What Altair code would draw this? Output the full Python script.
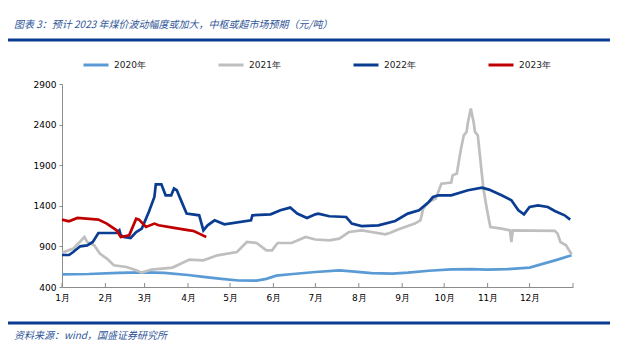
import altair as alt
import pandas as pd

years = ["2020年", "2021年", "2022年", "2023年"]
colors = ["#5B9BD5", "#BFBFBF", "#0A3D91", "#C00000"]

d2020 = ["01-01", "01-20", "02-10", "03-01", "03-15", "04-01", "04-12", "04-25", "05-07", "05-20",
         "05-27", "06-03", "06-15", "07-01", "07-18", "07-27", "08-10", "08-25", "09-05", "09-20",
         "10-06", "10-20", "11-01", "11-15", "12-01", "12-11", "12-21", "12-31"]
v2020 = [556, 560, 575, 580, 575, 548, 525, 500, 480, 478,
         500, 540, 560, 585, 605, 593, 570, 565, 577, 600,
         618, 620, 614, 620, 639, 688, 737, 790]

d2021 = ["01-01", "01-09", "01-14", "01-17", "01-19", "01-24", "01-28", "02-02", "02-07", "02-16",
         "02-23", "02-27", "03-06", "03-21", "04-02", "04-12", "04-22", "05-06", "05-13", "05-20",
         "05-27", "05-31", "06-04", "06-14", "06-24", "07-01", "07-11", "07-18", "07-25", "08-03",
         "08-10", "08-20", "08-24", "08-29", "09-03", "09-10", "09-14", "09-16", "09-20", "09-25",
         "09-29", "10-06", "10-07", "10-10", "10-13", "10-15", "10-17", "10-18", "10-20", "10-22",
         "10-23", "10-25", "10-27", "10-29", "10-31", "11-02", "11-03", "11-11", "11-17", "11-18",
         "11-19", "12-19", "12-21", "12-23", "12-27", "12-31"]
v2021 = [823, 873, 960, 1016, 954, 913, 811, 750, 667, 646,
         606, 577, 615, 639, 737, 729, 790, 831, 954, 942,
         852, 852, 942, 942, 1016, 985, 975, 996, 1077, 1098,
         1077, 1049, 1070, 1107, 1139, 1181, 1221, 1365, 1447, 1489,
         1673, 1686, 1775, 1797, 2104, 2268, 2309, 2432, 2597, 2432,
         2309, 2268, 1939, 1612, 1406, 1221, 1139, 1119, 1098, 954,
         1098, 1091, 1057, 954, 913, 803]

d2022 = ["01-01", "01-06", "01-09", "01-14", "01-19", "01-23", "01-27", "02-09", "02-11", "02-12",
         "02-14", "02-19", "02-23", "02-27", "03-04", "03-08", "03-09", "03-13", "03-16", "03-20",
         "03-22", "03-24", "03-28", "03-31", "04-09", "04-12", "04-15", "04-20", "04-27", "05-16",
         "05-17", "05-30", "06-06", "06-13", "06-18", "06-25", "07-01", "07-03", "07-11", "07-23",
         "07-27", "08-03", "08-15", "08-27", "09-05", "09-13", "09-20", "09-23", "09-27", "10-06",
         "10-18", "10-28", "11-02", "11-11", "11-18", "11-23", "11-27", "12-01", "12-07", "12-14",
         "12-19", "12-26", "12-30"]
v2022 = [794, 794, 831, 901, 913, 954, 1065, 1065, 1098, 1037,
         1016, 1004, 1077, 1119, 1324, 1508, 1665, 1665, 1529, 1529,
         1612, 1591, 1427, 1304, 1283, 1098, 1160, 1221, 1172, 1221,
         1283, 1295, 1345, 1378, 1304, 1250, 1295, 1304, 1271, 1262,
         1181, 1151, 1160, 1213, 1304, 1345, 1447, 1508, 1529, 1529,
         1591, 1624, 1599, 1529, 1468, 1345, 1295, 1385, 1406, 1385,
         1336, 1283, 1230]

d2023 = ["01-01", "01-06", "01-12", "01-27", "02-02", "02-09", "02-12", "02-18", "02-20", "02-23",
         "02-25", "03-02", "03-08", "03-11", "03-21", "04-02", "04-05", "04-09", "04-14"]
v2023 = [1230, 1209, 1250, 1230, 1181, 1098, 1016, 1037, 1119, 1242,
         1230, 1139, 1181, 1160, 1131, 1098, 1090, 1057, 1016]

month_starts = ["2022/%02d/01" % m for m in range(1, 13)] + ["2023/01/01"]
y_ticks = [400, 900, 1400, 1900, 2400, 2900]

title_text = "图表 3：预计 2023 年煤价波动幅度或加大，中枢或超市场预期（元/吨）"
source_text = "资料来源：wind，国盛证券研究所"

rows = []
for yr, ds, vs in zip(years, [d2020, d2021, d2022, d2023], [v2020, v2021, v2022, v2023]):
    for d, v in zip(ds, vs):
        rows.append({"year": yr, "date": "2022/" + d.replace("-", "/"), "price": v})
df = pd.DataFrame(rows)

W, H = 511, 203
x_scale = alt.Scale(domain=[alt.DateTime(year=2022, month=1, date=1), alt.DateTime(year=2023, month=1, date=1)])
x_axis = alt.Axis(
    values=[alt.DateTime(year=2022, month=m, date=1) for m in range(1, 13)],
    format="%-m月", labelFont="DejaVu Sans", labelFontSize=9, labelColor="#000000",
    ticks=False, domainColor="#8C8C8C", labelPadding=6, grid=False, title=None,
    labelAngle=0, labelFlush=False, labelOverlap=False,
)
y_axis = alt.Axis(
    values=y_ticks, format="d", labelFont="DejaVu Sans", labelFontSize=9, labelColor="#000000",
    tickSize=3, tickColor="#8C8C8C", domainColor="#8C8C8C", grid=False, title=None,
    labelPadding=3,
)

lines = alt.Chart(df).mark_line(strokeWidth=2.7).encode(
    x=alt.X("date:T", scale=x_scale, axis=x_axis),
    y=alt.Y("price:Q", scale=alt.Scale(domain=[400, 2900], nice=False, zero=False), axis=y_axis),
    color=alt.Color(
        "year:N",
        scale=alt.Scale(domain=years, range=colors),
        sort=years,
        legend=alt.Legend(
            orient="none", legendX=20, legendY=-33, direction="horizontal", title=None,
            symbolType="stroke", symbolSize=625, symbolStrokeWidth=3,
            labelFont="DejaVu Sans", labelFontSize=9, labelColor="#222222",
            columnPadding=66, labelOffset=4,
        ),
    ),
)

ticks = alt.Chart(pd.DataFrame({"date": month_starts})).mark_rule(color="#8C8C8C", strokeWidth=1).encode(
    x=alt.X("date:T", scale=x_scale, axis=x_axis),
    y=alt.value(H - 4),
    y2=alt.value(H),
)

one = pd.DataFrame({"a": [0]})
top_rule = alt.Chart(one).mark_rule(color="#0A3D91", strokeWidth=3).encode(
    x=alt.value(-54), x2=alt.value(548), y=alt.value(40 - 84)
)
bottom_rule = alt.Chart(one).mark_rule(color="#0A3D91", strokeWidth=3).encode(
    x=alt.value(-54), x2=alt.value(548), y=alt.value(323 - 84)
)
title = alt.Chart(pd.DataFrame({"t": [title_text]})).mark_text(
    align="left", baseline="middle", font="Noto Sans CJK SC", fontSize=10,
    fontStyle="italic", color="#2F5597",
).encode(x=alt.value(14 - 62), y=alt.value(25 - 84), text="t:N")
source = alt.Chart(pd.DataFrame({"t": [source_text]})).mark_text(
    align="left", baseline="middle", font="Noto Sans CJK SC", fontSize=10,
    fontStyle="italic", color="#2F5597",
).encode(x=alt.value(14 - 62), y=alt.value(336 - 84), text="t:N")

chart = alt.layer(lines, ticks, top_rule, bottom_rule, title, source).properties(
    width=W, height=H,
    autosize=alt.AutoSizeParams(type="none"),
    padding={"left": 54, "top": 76, "right": 62, "bottom": 69},
    background="white",
).configure_view(stroke=None)

chart.save("out.html", embed_options={"renderer": "svg", "actions": False})
